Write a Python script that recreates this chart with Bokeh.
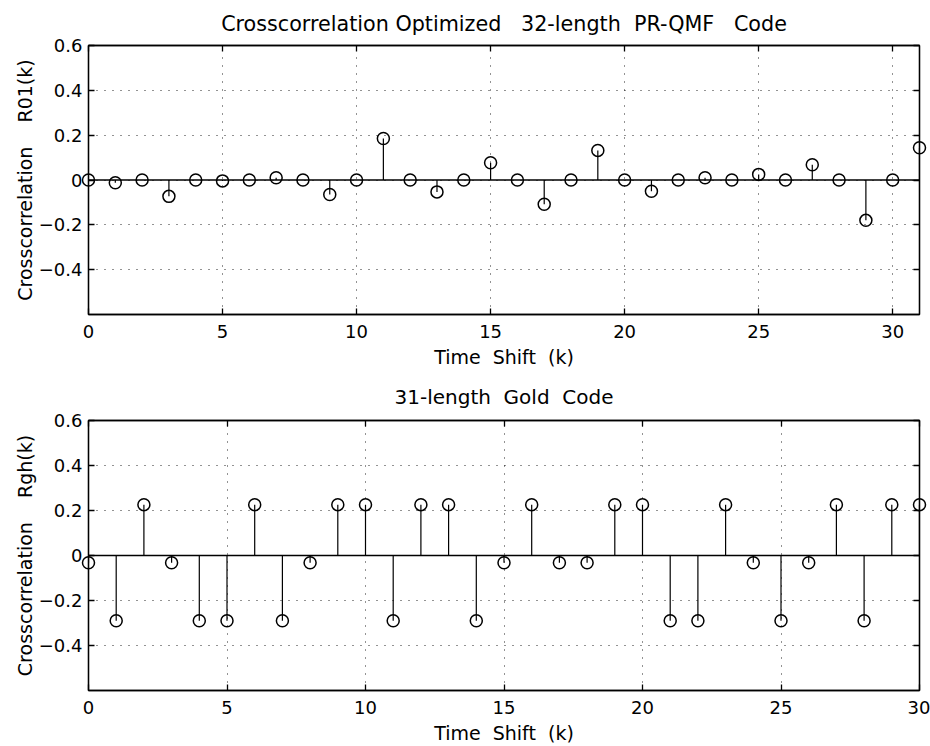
from bokeh.plotting import figure
from bokeh.models import (Range1d, FixedTicker, LinearAxis, Span, ColumnDataSource,
                          CustomJSTickFormatter)
from bokeh.layouts import column
from bokeh.embed import file_html
from bokeh.resources import INLINE

NB = "\u00a0"

# ---- data ----
k_qmf = list(range(32))
r01 = [0.0, -0.012, 0.0, -0.073, 0.0, -0.004, 0.0, 0.010, 0.0, -0.065,
       0.0, 0.185, 0.0, -0.053, 0.0, 0.077, 0.0, -0.108, 0.0, 0.132,
       0.0, -0.050, 0.0, 0.010, 0.0, 0.025, 0.0, 0.068, 0.0, -0.180,
       0.0, 0.144]

k_gold = list(range(31))
rgh = [-0.032, -0.29, 0.226, -0.032, -0.29, -0.29, 0.226, -0.29, -0.032, 0.226,
       0.226, -0.29, 0.226, 0.226, -0.29, -0.032, 0.226, -0.032, -0.032, 0.226,
       0.226, -0.29, -0.29, 0.226, -0.032, -0.29, -0.032, 0.226, -0.29, 0.226,
       0.226]

x_ticks = [0, 5, 10, 15, 20, 25, 30]
y_ticks = [-0.4, -0.2, 0, 0.2, 0.4, 0.6]

title_top = "Crosscorrelation Optimized" + NB * 3 + "32-length" + NB * 2 + "PR-QMF" + NB * 3 + "Code"
title_bot = "31-length" + NB * 2 + "Gold" + NB * 2 + "Code"
ylabel_top = "Crosscorrelation" + NB * 4 + "R01(k)"
ylabel_bot = "Crosscorrelation" + NB * 4 + "Rgh(k)"
xlabel = "Time" + NB * 2 + "Shift" + NB * 2 + "(k)"

FONT = "DejaVu Sans"


def fmt(v):
    if v == 0:
        return "0"
    s = f"{abs(v):.1f}"
    return ("\u2212" + s) if v < 0 else s


def make(k, r, xmax, title, title_size, title_standoff, ylabel, top_border, bottom_border):
    p = figure(width=930, height=top_border + 270 + bottom_border,
               x_range=Range1d(0, xmax), y_range=Range1d(-0.6, 0.6),
               output_backend="svg", toolbar_location=None,
               min_border_left=88, min_border_right=11,
               min_border_top=top_border, min_border_bottom=bottom_border,
               background_fill_color="white", border_fill_color="white")
    p.title.text = title
    p.title.align = "center"
    p.title.text_font = FONT
    p.title.text_font_size = title_size
    p.title.text_font_style = "normal"
    p.title.text_color = "black"
    p.title.standoff = title_standoff

    p.outline_line_color = "black"
    p.outline_line_width = 1.3
    p.outline_line_alpha = 1.0

    # main axes
    p.xaxis.ticker = FixedTicker(ticks=x_ticks)
    p.yaxis.ticker = FixedTicker(ticks=y_ticks)
    p.yaxis.major_label_overrides = {v: fmt(v) for v in y_ticks}
    p.xaxis.axis_label = xlabel
    p.yaxis.axis_label = ylabel
    for ax in (p.xaxis, p.yaxis):
        ax.major_tick_in = 6
        ax.major_tick_out = 0
        ax.minor_tick_in = 0
        ax.minor_tick_out = 0
        ax.axis_line_color = "black"
        ax.axis_line_width = 1.3
        ax.major_tick_line_color = "black"
        ax.major_tick_line_width = 1.3
        ax.major_label_text_font = FONT
        ax.major_label_text_font_size = "18px"
        ax.major_label_text_color = "black"
        ax.axis_label_text_font = FONT
        ax.axis_label_text_font_size = "19px"
        ax.axis_label_text_font_style = "normal"
        ax.axis_label_text_color = "black"
    p.xaxis.major_label_standoff = 10
    p.xaxis.axis_label_standoff = 5
    p.yaxis.major_label_standoff = 6
    p.yaxis.axis_label_standoff = 0

    # mirrored ticks on top/right (no labels)
    blank = CustomJSTickFormatter(code="return ''")
    top = LinearAxis(ticker=FixedTicker(ticks=x_ticks), formatter=blank,
                     major_tick_in=6, major_tick_out=0, minor_tick_in=0, minor_tick_out=0,
                     axis_line_color="black", axis_line_width=1.3,
                     major_tick_line_color="black", major_tick_line_width=1.3,
                     major_label_standoff=0, major_label_text_font_size="1px")
    right = LinearAxis(ticker=FixedTicker(ticks=y_ticks), formatter=blank,
                       major_tick_in=6, major_tick_out=0, minor_tick_in=0, minor_tick_out=0,
                       axis_line_color="black", axis_line_width=1.3,
                       major_tick_line_color="black", major_tick_line_width=1.3,
                       major_label_standoff=0, major_label_text_font_size="1px")
    p.add_layout(top, "above")
    p.add_layout(right, "right")

    # dotted grid
    p.xgrid.ticker = FixedTicker(ticks=x_ticks)
    p.ygrid.ticker = FixedTicker(ticks=y_ticks)
    for g in (p.xgrid, p.ygrid):
        g.grid_line_color = "black"
        g.grid_line_alpha = 0.85
        g.grid_line_width = 1
        g.grid_line_dash = "1 7"

    # baseline
    p.add_layout(Span(location=0, dimension="width", line_color="black", line_width=1.3))

    src = ColumnDataSource(dict(k=k, r=r, base=[0.0] * len(k)))
    p.segment(x0="k", y0="base", x1="k", y1="r", source=src,
              line_color="black", line_width=1.2)
    sc = p.scatter(x="k", y="r", source=src, marker="circle", size=12,
                   fill_color=None, line_color="black", line_width=1.5)
    sc.level = "overlay"
    return p


p1 = make(k_qmf, r01, 31, title_top, "20.7px", 19, ylabel_top, 44, 56)
p2 = make(k_gold, rgh, 30, title_bot, "20px", 23, ylabel_bot, 50, 56)

layout = column(p1, p2, spacing=0)
open("out.html", "w").write(file_html(layout, INLINE))
